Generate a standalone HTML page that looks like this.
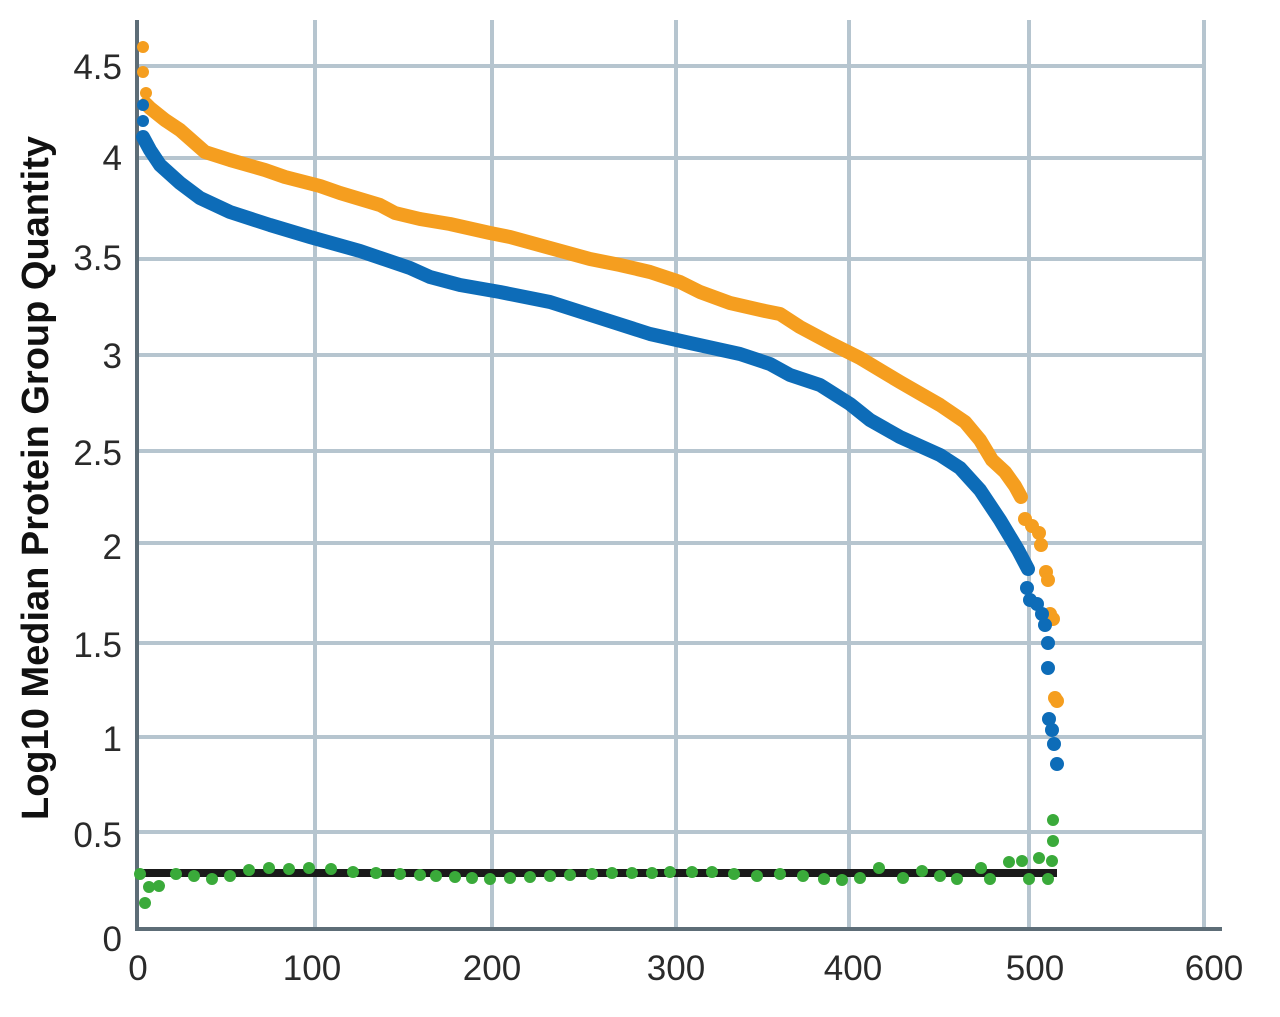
<!DOCTYPE html>
<html><head><meta charset="utf-8"><style>
html,body{margin:0;padding:0;background:#fff;}
svg{display:block;}
text{font-family:"Liberation Sans",sans-serif;fill:#2a2a2a;}
</style></head><body>
<svg width="1280" height="1017" viewBox="0 0 1280 1017">
<g stroke="#b6c5cf" stroke-width="4">
<line x1="315" y1="20" x2="315" y2="928"/>
<line x1="492" y1="20" x2="492" y2="928"/>
<line x1="676" y1="20" x2="676" y2="928"/>
<line x1="849" y1="20" x2="849" y2="928"/>
<line x1="1029" y1="20" x2="1029" y2="928"/>
<line x1="1204" y1="20" x2="1204" y2="928"/>
<line x1="137" y1="832" x2="1204" y2="832"/>
<line x1="137" y1="737" x2="1204" y2="737"/>
<line x1="137" y1="643" x2="1204" y2="643"/>
<line x1="137" y1="543" x2="1204" y2="543"/>
<line x1="137" y1="451" x2="1204" y2="451"/>
<line x1="137" y1="355" x2="1204" y2="355"/>
<line x1="137" y1="259" x2="1204" y2="259"/>
<line x1="137" y1="158" x2="1204" y2="158"/>
<line x1="137" y1="66" x2="1204" y2="66"/>
</g>
<g stroke="#5d6d77" stroke-width="4">
<line x1="137" y1="20" x2="137" y2="930"/>
<line x1="135" y1="929" x2="1222" y2="929"/>
</g>
<g font-size="35" text-anchor="end">
<text x="122" y="79">4.5</text><text x="122" y="170">4</text><text x="122" y="270">3.5</text>
<text x="122" y="368">3</text><text x="122" y="465">2.5</text><text x="122" y="559">2</text>
<text x="122" y="657">1.5</text><text x="122" y="751">1</text><text x="122" y="847">0.5</text>
<text x="122" y="951">0</text>
</g>
<g font-size="35" text-anchor="middle">
<text x="138" y="980">0</text><text x="312" y="980">100</text><text x="492" y="980">200</text>
<text x="676" y="980">300</text><text x="853" y="980">400</text><text x="1035" y="980">500</text><text x="1214" y="980">600</text>
</g>
<text transform="translate(48,478) rotate(-90)" font-size="38" font-weight="bold" text-anchor="middle" style="fill:#111">Log10 Median Protein Group Quantity</text>
<line x1="137" y1="873" x2="1057" y2="873" stroke="#1a1a1a" stroke-width="8"/>
<g fill="#3aaa3a">
<circle cx="140" cy="874" r="6"/><circle cx="145" cy="903" r="6"/><circle cx="149" cy="887" r="6"/><circle cx="159" cy="886" r="6"/>
<circle cx="176" cy="874" r="6"/><circle cx="194" cy="876" r="6"/><circle cx="212" cy="879" r="6"/><circle cx="230" cy="876" r="6"/>
<circle cx="249" cy="870" r="6"/><circle cx="269" cy="868" r="6"/><circle cx="289" cy="869" r="6"/><circle cx="309" cy="868" r="6"/>
<circle cx="331" cy="869" r="6"/><circle cx="353" cy="872" r="6"/><circle cx="376" cy="873" r="6"/><circle cx="400" cy="874" r="6"/>
<circle cx="420" cy="875" r="6"/><circle cx="436" cy="876" r="6"/><circle cx="455" cy="877" r="6"/><circle cx="472" cy="878" r="6"/>
<circle cx="490" cy="879" r="6"/><circle cx="510" cy="878" r="6"/><circle cx="530" cy="877" r="6"/><circle cx="550" cy="876" r="6"/>
<circle cx="570" cy="875" r="6"/><circle cx="592" cy="874" r="6"/><circle cx="612" cy="873" r="6"/><circle cx="632" cy="873" r="6"/>
<circle cx="652" cy="873" r="6"/><circle cx="670" cy="872" r="6"/><circle cx="692" cy="872" r="6"/><circle cx="712" cy="872" r="6"/>
<circle cx="734" cy="874" r="6"/><circle cx="757" cy="876" r="6"/><circle cx="780" cy="874" r="6"/><circle cx="803" cy="876" r="6"/>
<circle cx="824" cy="879" r="6"/><circle cx="842" cy="880" r="6"/><circle cx="860" cy="878" r="6"/><circle cx="879" cy="868" r="6"/>
<circle cx="903" cy="878" r="6"/><circle cx="922" cy="871" r="6"/><circle cx="940" cy="876" r="6"/><circle cx="957" cy="879" r="6"/>
<circle cx="981" cy="868" r="6"/><circle cx="990" cy="879" r="6"/><circle cx="1009" cy="862" r="6"/><circle cx="1022" cy="861" r="6"/>
<circle cx="1029" cy="879" r="6"/><circle cx="1039" cy="858" r="6"/><circle cx="1048" cy="879" r="6"/><circle cx="1052" cy="861" r="6"/>
<circle cx="1053" cy="841" r="6"/><circle cx="1053" cy="820" r="6"/>
</g>
<polyline fill="none" stroke="#f59e1f" stroke-width="14" stroke-linecap="round" stroke-linejoin="round"
points="146,104 150,108 165,120 180,130 205,152 230,160 265,170 285,177 320,186 340,193 380,205 395,213 420,219 450,224 490,233 510,237 550,248 590,259 620,265 650,272 680,282 700,292 730,303 765,311 780,314 800,327 830,343 860,358 900,382 940,405 965,422 980,440 992,460 1005,472 1015,486 1021,497"/>
<g fill="#f59e1f">
<circle cx="143" cy="47" r="6"/><circle cx="143" cy="72" r="6"/><circle cx="146" cy="93" r="6"/>
<circle cx="1025" cy="519" r="7"/><circle cx="1032" cy="526" r="7"/><circle cx="1039" cy="533" r="7"/><circle cx="1041" cy="545" r="7"/>
<circle cx="1046" cy="572" r="7"/><circle cx="1048" cy="580" r="7"/><circle cx="1050" cy="614" r="7"/><circle cx="1053" cy="619" r="7"/>
<circle cx="1055" cy="698" r="7"/><circle cx="1057" cy="701" r="7"/>
</g>
<polyline fill="none" stroke="#0d6cb8" stroke-width="14" stroke-linecap="round" stroke-linejoin="round"
points="143,137 150,150 160,165 180,183 200,198 230,212 270,225 310,237 360,251 410,268 430,277 460,285 500,292 550,302 600,318 650,334 690,343 740,354 770,364 790,375 820,385 850,404 870,420 900,437 940,455 960,468 980,490 1000,520 1018,550 1028,569"/>
<g fill="#0d6cb8">
<circle cx="143" cy="105" r="6"/><circle cx="143" cy="121" r="6"/>
<circle cx="1027" cy="588" r="7"/><circle cx="1030" cy="600" r="7"/><circle cx="1037" cy="604" r="7"/><circle cx="1042" cy="614" r="7"/>
<circle cx="1045" cy="625" r="7"/><circle cx="1048" cy="643" r="7"/><circle cx="1048" cy="668" r="7"/><circle cx="1049" cy="719" r="7"/>
<circle cx="1052" cy="730" r="7"/><circle cx="1054" cy="744" r="7"/><circle cx="1057" cy="764" r="7"/>
</g>
</svg>
</body></html>
